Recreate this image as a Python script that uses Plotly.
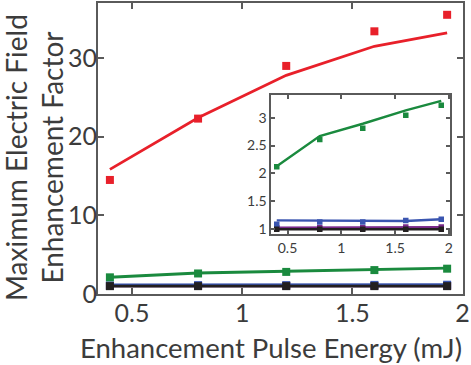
import plotly.graph_objects as go

energy = [0.4, 0.8, 1.2, 1.6, 1.93]

red_pts = [14.5, 22.3, 29.0, 33.4, 35.5]
red_fit = [15.85, 22.4, 27.8, 31.5, 33.2]

green_pts = [2.12, 2.61, 2.81, 3.04, 3.22]
green_fit = [2.13, 2.67, 2.89, 3.13, 3.30]

blue_pts = [1.09, 1.13, 1.13, 1.16, 1.18]
blue_fit = [1.16, 1.16, 1.16, 1.15, 1.18]

purple_pts = [1.03, 1.03, 1.03, 1.04, 1.04]
purple_fit = [1.03, 1.03, 1.03, 1.04, 1.04]

black_pts = [1.0, 1.0, 1.0, 1.0, 1.0]
black_fit = [1.0, 1.0, 1.0, 1.0, 1.0]

series = [
    ("#7a2a8a", purple_pts, purple_fit),
    ("#3a55b0", blue_pts, blue_fit),
    ("#231f20", black_pts, black_fit),
    ("#1a8a3e", green_pts, green_fit),
    ("#e8202a", red_pts, red_fit),
]

FONT = "Lato"
TXT = "#3c3c3c"
AX = "#5a5a5a"

fig = go.Figure()

for color, pts, fit in series:
    for xa, ya, msize, lw in (("x", "y", 8, 2.8), ("x2", "y2", 5.5, 2.4)):
        fig.add_trace(go.Scatter(
            x=energy, y=fit, mode="lines", line=dict(color=color, width=lw),
            xaxis=xa, yaxis=ya, showlegend=False, hoverinfo="skip",
        ))
        fig.add_trace(go.Scatter(
            x=energy, y=pts, mode="markers",
            marker=dict(color=color, size=msize, symbol="square"),
            xaxis=xa, yaxis=ya, showlegend=False,
        ))

axis_common = dict(
    showgrid=False, zeroline=False, showline=True, linecolor=AX, linewidth=2,
    mirror="ticks", ticks="inside", tickcolor=AX, tickwidth=1.5,
)

fig.update_layout(
    width=471, height=365,
    margin=dict(l=98, r=7, t=1, b=71),
    paper_bgcolor="white", plot_bgcolor="white",
    font=dict(family=FONT, color=TXT),
    xaxis=dict(range=[0.346, 2.002], tickvals=[0.5, 1, 1.5, 2], ticktext=["0.5", "1", "1.5", "2"],
               ticklen=6, tickfont=dict(size=25), ticklabelstandoff=-4, **axis_common),
    yaxis=dict(range=[0, 37], tickvals=[0, 10, 20, 30], ticklen=6,
               tickfont=dict(size=25), ticklabelstandoff=-6, **axis_common),
    xaxis2=dict(domain=[0.475, 0.964], anchor="y2", range=[0.35, 2.01],
                tickvals=[0.5, 1, 1.5, 2], ticktext=["0.5", "1", "1.5", "2"],
                ticklen=4, tickfont=dict(size=14), **axis_common),
    yaxis2=dict(domain=[0.205, 0.683], anchor="x2", range=[0.91, 3.4],
                tickvals=[1, 1.5, 2, 2.5, 3], ticktext=["1", "1.5", "2", "2.5", "3"],
                ticklen=4, tickfont=dict(size=14), **axis_common),
)

fig.add_annotation(
    text="Maximum Electric Field<br>Enhancement Factor",
    xref="paper", yref="paper", x=-0.176, y=0.47,
    xanchor="center", yanchor="middle", textangle=-90, showarrow=False,
    font=dict(size=28, family=FONT, color=TXT),
)
fig.add_annotation(
    text="Enhancement Pulse Energy (mJ)",
    xref="paper", yref="paper", x=0.473, y=-0.185,
    xanchor="center", yanchor="middle", showarrow=False,
    font=dict(size=27.5, family=FONT, color=TXT),
)

fig.write_html("out.html", config={"displayModeBar": False},
               post_script="document.body.style.margin='0';")
